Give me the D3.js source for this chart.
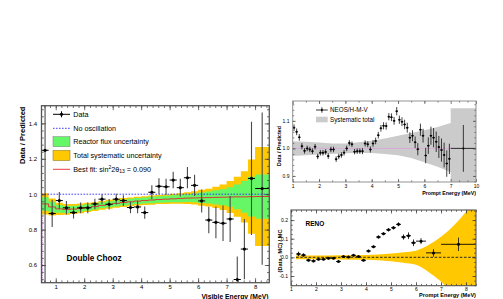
<!DOCTYPE html>
<html><head><meta charset="utf-8">
<script src="https://cdn.jsdelivr.net/npm/d3@7"></script>
<style>body{margin:0;background:#fff}svg text{font-family:"Liberation Sans",Arial,Helvetica,sans-serif}</style>
</head><body>
<svg id="c" width="503" height="299"></svg>
<script>
// ================= DATA =================
// Double Chooz (left panel)
const dcEnergy   = [0.625,0.875,1.125,1.375,1.625,1.875,2.125,2.375,2.625,2.875,3.125,3.375,3.625,3.875,4.125,4.375,4.625,4.875,5.125,5.375,5.625,5.875,6.125,6.375,6.625,6.875,7.125,7.375,7.625,7.875,8.25];
const dcHalfBin  = [0.125,0.125,0.125,0.125,0.125,0.125,0.125,0.125,0.125,0.125,0.125,0.125,0.125,0.125,0.125,0.125,0.125,0.125,0.125,0.125,0.125,0.125,0.125,0.125,0.125,0.125,0.125,0.125,0.125,0.125,0.25];
const dcValue    = [1.248,0.891,0.964,0.923,0.896,0.923,0.923,0.945,0.972,0.943,0.972,0.964,0.925,0.928,0.896,1.011,1.045,1.042,1.080,1.037,1.093,1.050,0.962,0.854,0.841,0.836,0.860,0.518,0.690,1.089,1.032];
const dcError    = [0.80,0.077,0.048,0.038,0.033,0.030,0.030,0.030,0.028,0.030,0.030,0.030,0.033,0.035,0.035,0.040,0.045,0.045,0.047,0.050,0.060,0.060,0.065,0.075,0.090,0.100,0.130,0.130,0.170,0.320,0.430];
const dcBinEdges = [0.5,0.75,1.0,1.25,1.5,1.75,2.0,2.25,2.5,2.75,3.0,3.25,3.5,3.75,4.0,4.25,4.5,4.75,5.0,5.25,5.5,5.75,6.0,6.25,6.5,6.75,7.0,7.25,7.5,7.75,8.0,8.5];
const dcBestFit  = [0.945,0.928,0.917,0.914,0.916,0.920,0.925,0.930,0.937,0.943,0.948,0.953,0.957,0.961,0.964,0.967,0.970,0.972,0.974,0.976,0.978,0.979,0.980,0.981,0.982,0.983,0.984,0.985,0.985,0.986,0.987];
const dcFluxErr  = [0.038,0.030,0.022,0.020,0.019,0.018,0.018,0.017,0.017,0.017,0.017,0.017,0.017,0.017,0.017,0.018,0.018,0.019,0.020,0.021,0.022,0.025,0.030,0.034,0.040,0.045,0.055,0.070,0.090,0.112,0.125];
const dcTotalErr = [0.060,0.048,0.035,0.030,0.028,0.027,0.026,0.025,0.025,0.025,0.025,0.025,0.025,0.025,0.025,0.026,0.026,0.027,0.028,0.030,0.033,0.037,0.045,0.050,0.060,0.072,0.090,0.113,0.145,0.210,0.280];
const dcYTicks   = [0.6,0.8,1.0,1.2,1.4];
const dcXTicks   = [1,2,3,4,5,6,7,8];

// NEOS (top right)
const neosEnergy = [1.05,1.15,1.25,1.35,1.45,1.55,1.65,1.75,1.85,1.95,2.05,2.15,2.25,2.35,2.45,2.55,2.65,2.75,2.85,2.95,3.05,3.15,3.25,3.35,3.45,3.55,3.65,3.75,3.85,3.95,4.05,4.15,4.25,4.35,4.45,4.55,4.65,4.75,4.85,4.95,5.05,5.15,5.25,5.35,5.45,5.55,5.65,5.75,5.85,5.95,6.05,6.15,6.25,6.35,6.45,6.55,6.65,6.75,6.85,6.95,8.5];
const neosHalf   = [0.05,0.05,0.05,0.05,0.05,0.05,0.05,0.05,0.05,0.05,0.05,0.05,0.05,0.05,0.05,0.05,0.05,0.05,0.05,0.05,0.05,0.05,0.05,0.05,0.05,0.05,0.05,0.05,0.05,0.05,0.05,0.05,0.05,0.05,0.05,0.05,0.05,0.05,0.05,0.05,0.05,0.05,0.05,0.05,0.05,0.05,0.05,0.05,0.05,0.05,0.05,0.05,0.05,0.05,0.05,0.05,0.05,0.05,0.05,0.05,1.5];
const neosValue  = [1.075,1.060,1.040,1.008,0.991,1.000,0.996,0.990,1.006,0.971,0.984,0.984,0.987,0.972,0.996,0.996,0.961,0.971,0.976,0.984,1.000,1.020,1.015,0.988,0.990,0.990,0.990,1.018,1.015,0.996,1.018,1.027,1.048,1.073,1.082,1.081,1.115,1.113,1.100,1.135,1.104,1.097,1.087,1.075,1.039,1.046,1.022,0.997,1.068,1.046,0.974,1.010,1.046,1.039,1.024,1.005,0.994,0.976,0.945,0.962,1.000];
const neosError  = [0.012,0.012,0.012,0.011,0.010,0.010,0.010,0.010,0.010,0.010,0.010,0.010,0.010,0.010,0.010,0.010,0.010,0.010,0.010,0.010,0.010,0.010,0.010,0.010,0.010,0.010,0.011,0.011,0.011,0.011,0.012,0.012,0.012,0.012,0.013,0.013,0.013,0.014,0.014,0.015,0.015,0.016,0.017,0.018,0.019,0.020,0.021,0.022,0.022,0.025,0.028,0.030,0.033,0.035,0.037,0.040,0.042,0.045,0.048,0.055,0.085];
const neosBandE  = [1.0,1.5,2.0,2.5,3.0,3.5,4.0,4.5,5.0,5.5,6.0,6.5,7.0,7.0,10.0];
const neosBandHi = [1.026,1.024,1.021,1.018,1.018,1.022,1.028,1.036,1.046,1.056,1.066,1.078,1.092,1.146,1.146];
const neosBandLo = [0.972,0.975,0.978,0.980,0.982,0.983,0.983,0.980,0.975,0.965,0.950,0.933,0.913,0.850,0.850];
const neosYTicks = [0.9,1.0,1.1];
const neosXTicks = [1,2,3,4,5,6,7,10];

// RENO (bottom right)
const renoEnergy = [1.3,1.5,1.7,1.9,2.1,2.3,2.5,2.7,2.9,3.1,3.3,3.5,3.7,3.9,4.1,4.3,4.5,4.7,4.9,5.1,5.3,5.5,5.7,5.9,6.2,6.7,7.7];
const renoHalf   = [0.1,0.1,0.1,0.1,0.1,0.1,0.1,0.1,0.1,0.1,0.1,0.1,0.1,0.1,0.1,0.1,0.1,0.1,0.1,0.1,0.1,0.1,0.1,0.1,0.2,0.3,0.7];
const renoValue  = [0.018,0.012,-0.015,-0.019,-0.010,-0.010,-0.005,-0.005,-0.022,0.004,0.002,0.011,0.004,-0.016,0.034,0.057,0.109,0.127,0.148,0.159,0.177,0.109,0.116,0.078,0.087,0.024,0.070];
const renoError  = [0.012,0.009,0.007,0.007,0.006,0.006,0.006,0.006,0.006,0.006,0.006,0.006,0.006,0.006,0.007,0.007,0.008,0.008,0.009,0.009,0.010,0.014,0.018,0.018,0.016,0.020,0.036];
const renoBandE  = [1.2,2.0,3.0,4.0,4.5,5.0,5.5,6.0,6.5,7.0,7.5,8.0,8.4];
const renoBandHi = [0.010,0.010,0.011,0.013,0.016,0.021,0.028,0.036,0.066,0.110,0.170,0.245,0.320];
const renoBandLo = [-0.010,-0.010,-0.011,-0.013,-0.016,-0.021,-0.029,-0.040,-0.078,-0.130,-0.200,-0.280,-0.350];
const renoYTicks = [-0.1,0.0,0.1,0.2];
const renoXTicks = [1,2,3,4,5,6,7,8];

// ================= DRAWING =================
const svg = d3.select("#c");
const FONT = '"Liberation Sans",Arial,Helvetica,sans-serif';
let clipId = 0;

function range(a, b, s) { const r = []; for (let v = a; v <= b + 1e-9; v += s) r.push(+v.toFixed(4)); return r; }

function clip(x, y) {
  const id = "clip" + (clipId++);
  const [x0, x1] = [x.range()[0], x.range()[x.range().length - 1]];
  const [y0, y1] = y.range();
  svg.append("clipPath").attr("id", id).append("rect").attr("x", x0).attr("y", y1).attr("width", x1 - x0).attr("height", y0 - y1);
  return svg.append("g").attr("clip-path", `url(#${id})`);
}

function frameAxes(x, y, o) {
  const g = svg.append("g");
  const [x0, x1] = [x.range()[0], x.range()[x.range().length - 1]];
  const [y0, y1] = y.range();
  const mk = (axis, tr) => {
    const a = g.append("g").attr("transform", tr).call(axis);
    a.select(".domain").remove();
    a.selectAll("line").attr("stroke", o.tick).attr("stroke-width", 0.7);
    a.selectAll("text").attr("font-size", o.fs).attr("fill", "#000").attr("font-family", FONT);
    return a;
  };
  mk(d3.axisBottom(x).tickValues(o.xMajor).tickSize(-o.major).tickPadding(o.xPad).tickFormat(o.xFmt), `translate(0,${y0})`);
  mk(d3.axisBottom(x).tickValues(o.xMinor).tickSize(-o.minor).tickFormat(""), `translate(0,${y0})`);
  mk(d3.axisTop(x).tickValues(o.xMajor).tickSize(-o.major).tickFormat(""), `translate(0,${y1})`);
  mk(d3.axisTop(x).tickValues(o.xMinor).tickSize(-o.minor).tickFormat(""), `translate(0,${y1})`);
  mk(d3.axisLeft(y).tickValues(o.yMajor).tickSize(-o.major).tickPadding(o.yPad).tickFormat(o.yFmt), `translate(${x0},0)`);
  mk(d3.axisLeft(y).tickValues(o.yMinor).tickSize(-o.minor).tickFormat(""), `translate(${x0},0)`);
  mk(d3.axisRight(y).tickValues(o.yMajor).tickSize(-o.major).tickFormat(""), `translate(${x1},0)`);
  mk(d3.axisRight(y).tickValues(o.yMinor).tickSize(-o.minor).tickFormat(""), `translate(${x1},0)`);
  g.append("rect").attr("x", x0).attr("y", y1).attr("width", x1 - x0).attr("height", y0 - y1)
    .attr("fill", "none").attr("stroke", o.frame).attr("stroke-width", o.fw);
  return g;
}

function text(x, y, s, o) {
  const t = svg.append("text").attr("x", x).attr("y", y).attr("font-size", o.fs)
    .attr("font-weight", o.bold ? "bold" : "normal").attr("text-anchor", o.anchor || "start")
    .attr("font-family", FONT).attr("fill", "#000").text(s);
  if (o.rot) t.attr("transform", `rotate(-90,${x},${y})`);
  return t;
}

function errPoints(g, x, y, E, H, V, Er, o) {
  E.forEach((e, i) => {
    g.append("line").attr("x1", x(e)).attr("x2", x(e)).attr("y1", y(V[i] - Er[i])).attr("y2", y(V[i] + Er[i]))
      .attr("stroke", o.vcol).attr("stroke-width", o.vw);
    g.append("line").attr("x1", x(e - H[i])).attr("x2", x(e + H[i])).attr("y1", y(V[i])).attr("y2", y(V[i]))
      .attr("stroke", "#000").attr("stroke-width", o.hw);
    g.append("circle").attr("cx", x(e)).attr("cy", y(V[i])).attr("r", o.r).attr("fill", "#000");
  });
}

// ---------- Double Chooz ----------
{
  const x = d3.scaleLinear().domain([0.5, 8.5]).range([41.5, 269.3]);
  const y = d3.scaleLinear().domain([0.5, 1.5]).range([282.7, 105.7]);
  const pts = [];
  dcBestFit.forEach((c, i) => {
    pts.push({ e: dcBinEdges[i], c, f: dcFluxErr[i], t: dcTotalErr[i] });
    pts.push({ e: dcBinEdges[i + 1], c, f: dcFluxErr[i], t: dcTotalErr[i] });
  });
  const g = clip(x, y);
  g.append("path").datum(pts).attr("fill", "#ffc800")
    .attr("d", d3.area().x(d => x(d.e)).y0(d => y(d.c - d.t)).y1(d => y(d.c + d.t)));
  g.append("path").datum(pts).attr("fill", "#66f766")
    .attr("d", d3.area().x(d => x(d.e)).y0(d => y(d.c - d.f)).y1(d => y(d.c + d.f)));
  g.append("line").attr("x1", x(0.5)).attr("x2", x(8.5)).attr("y1", y(1)).attr("y2", y(1))
    .attr("stroke", "#2b2bff").attr("stroke-width", 0.9).attr("stroke-dasharray", "1.6,1.4");
  g.append("path").datum(pts).attr("fill", "none").attr("stroke", "#e8262a").attr("stroke-width", 0.9)
    .attr("d", d3.line().x(d => x(d.e)).y(d => y(d.c)));
  g.append("line").attr("x1", x(0.5) + 0.9).attr("x2", x(0.5) + 0.9).attr("y1", y(0.5)).attr("y2", y(0.875))
    .attr("stroke", "#d070e0").attr("stroke-width", 0.8).attr("stroke-dasharray", "1.2,1");
  frameAxes(x, y, {
    xMajor: dcXTicks, xMinor: range(0.6, 8.4, 0.2), yMajor: dcYTicks, yMinor: range(0.52, 1.48, 0.04),
    xFmt: d3.format("d"), yFmt: d3.format(".1f"), major: 4.5, minor: 2.3, xPad: 2.5, yPad: 4.5, fs: 6,
    tick: "#333", frame: "#555", fw: 1.3
  });
  errPoints(g, x, y, dcEnergy, dcHalfBin, dcValue, dcError, { vcol: "#4a4a4a", vw: 1.1, hw: 1, r: 1.6 });

  // legend
  const lx0 = 53, lx1 = 70;
  svg.append("line").attr("x1", lx0).attr("x2", lx1).attr("y1", 114.3).attr("y2", 114.3).attr("stroke", "#000").attr("stroke-width", 1);
  svg.append("line").attr("x1", 61.5).attr("x2", 61.5).attr("y1", 111.3).attr("y2", 117.3).attr("stroke", "#000").attr("stroke-width", 1);
  svg.append("circle").attr("cx", 61.5).attr("cy", 114.3).attr("r", 1.6);
  text(73.3, 116.8, "Data", { fs: 7.2 });
  svg.append("line").attr("x1", lx0).attr("x2", lx1).attr("y1", 128.3).attr("y2", 128.3)
    .attr("stroke", "#2b2bff").attr("stroke-width", 0.9).attr("stroke-dasharray", "1.6,1.4");
  text(73.3, 130.8, "No oscillation", { fs: 7.2 });
  svg.append("rect").attr("x", lx0).attr("y", 136.7).attr("width", lx1 - lx0).attr("height", 10).attr("fill", "#66f766").attr("stroke", "#7a7a7a").attr("stroke-width", 0.5);
  text(73.3, 144.3, "Reactor flux uncertainty", { fs: 7.2 });
  svg.append("rect").attr("x", lx0).attr("y", 150.5).attr("width", lx1 - lx0).attr("height", 10).attr("fill", "#ffc800").attr("stroke", "#8a6a00").attr("stroke-width", 0.5);
  text(73.3, 158.2, "Total systematic uncertainty", { fs: 7.2 });
  svg.append("line").attr("x1", lx0).attr("x2", lx1).attr("y1", 169.3).attr("y2", 169.3).attr("stroke", "#e8262a").attr("stroke-width", 0.9);
  const bf = text(73.3, 171.8, "", { fs: 7.2 });
  bf.append("tspan").text("Best fit: sin");
  bf.append("tspan").attr("font-size", 5).attr("dy", -2.8).text("2");
  bf.append("tspan").attr("dy", 2.8).text("2θ");
  bf.append("tspan").attr("font-size", 5).attr("dy", 1.6).text("13");
  bf.append("tspan").attr("dy", -1.6).text(" = 0.090");

  text(66.5, 261.2, "Double Chooz", { fs: 8.2, bold: true });
  text(24.8, 106.5, "Data / Predicted", { fs: 7.6, bold: true, rot: true, anchor: "end" });
  text(268.5, 298.5, "Visible Energy (MeV)", { fs: 6.8, bold: true, anchor: "end" });
}

// ---------- NEOS ----------
{
  const x = d3.scaleLinear().domain([1, 7, 10]).range([292.7, 450.7, 476]);
  const y = d3.scaleLinear().domain([0.878, 1.172]).range([182, 101]);
  const g = clip(x, y);
  g.append("path").datum(neosBandE.map((e, i) => ({ e, hi: neosBandHi[i], lo: neosBandLo[i] })))
    .attr("fill", "#cbcbcb").attr("d", d3.area().x(d => x(d.e)).y0(d => y(d.lo)).y1(d => y(d.hi)));
  g.append("line").attr("x1", x(1)).attr("x2", x(7)).attr("y1", y(1)).attr("y2", y(1))
    .attr("stroke", "#d9a3dc").attr("stroke-width", 0.8);
  frameAxes(x, y, {
    xMajor: neosXTicks, xMinor: range(1.5, 6.5, 0.5).concat([8, 9]), yMajor: neosYTicks, yMinor: range(0.88, 1.16, 0.02),
    xFmt: d3.format("d"), yFmt: d3.format(".1f"), major: 3, minor: 1.6, xPad: 2, yPad: 3.2, fs: 5,
    tick: "#444", frame: "#888", fw: 0.9
  });
  errPoints(g, x, y, neosEnergy, neosHalf, neosValue, neosError, { vcol: "#111", vw: 0.8, hw: 0.8, r: 1.0 });
  svg.append("line").attr("x1", 316).attr("x2", 327.7).attr("y1", 110).attr("y2", 110).attr("stroke", "#000").attr("stroke-width", 0.8);
  svg.append("line").attr("x1", 321.9).attr("x2", 321.9).attr("y1", 107.3).attr("y2", 112.7).attr("stroke", "#000").attr("stroke-width", 0.8);
  svg.append("circle").attr("cx", 321.9).attr("cy", 110).attr("r", 1);
  text(330, 112.2, "NEOS/H-M-V", { fs: 6.3 });
  svg.append("rect").attr("x", 316).attr("y", 116.7).attr("width", 11.7).attr("height", 5.6).attr("fill", "#cbcbcb");
  text(330, 121.6, "Systematic total", { fs: 6.3 });
  text(281, 146, "Data / Predicted", { fs: 5.3, bold: true, rot: true, anchor: "middle" });
  text(476, 195, "Prompt Energy (MeV)", { fs: 5.3, bold: true, anchor: "end" });
}

// ---------- RENO ----------
{
  const x = d3.scaleLinear().domain([1, 8.4]).range([291, 476]);
  const y = d3.scaleLinear().domain([-0.152, 0.254]).range([285.7, 210]);
  const g = clip(x, y);
  g.append("path").datum(renoBandE.map((e, i) => ({ e, hi: renoBandHi[i], lo: renoBandLo[i] })))
    .attr("fill", "#ffc800").attr("d", d3.area().curve(d3.curveMonotoneX).x(d => x(d.e)).y0(d => y(d.lo)).y1(d => y(d.hi)));
  g.append("line").attr("x1", x(1.2)).attr("x2", x(8.4)).attr("y1", y(0)).attr("y2", y(0))
    .attr("stroke", "#5a4a20").attr("stroke-width", 1.2).attr("stroke-dasharray", "2.6,1.6");
  frameAxes(x, y, {
    xMajor: renoXTicks, xMinor: range(1.2, 8.4, 0.2), yMajor: renoYTicks, yMinor: range(-0.15, 0.25, 0.025),
    xFmt: d3.format("d"), yFmt: d => d3.format(".1f")(d).replace("−", "-"), major: 3.5, minor: 1.8, xPad: 2, yPad: 3, fs: 5,
    tick: "#333", frame: "#555", fw: 1.1
  });
  errPoints(g, x, y, renoEnergy, renoHalf, renoValue, renoError, { vcol: "#222", vw: 0.9, hw: 0.9, r: 1.5 });
  text(305.5, 225.5, "RENO", { fs: 6.5, bold: true });
  text(281.5, 251, "(Data - MC) / MC", { fs: 5.6, bold: true, rot: true, anchor: "middle" });
  text(476, 297, "Prompt Energy (MeV)", { fs: 5.6, bold: true, anchor: "end" });
}
</script>
</body></html>
